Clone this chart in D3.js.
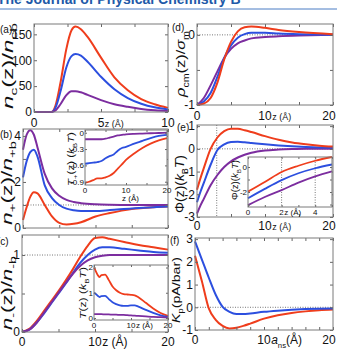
<!DOCTYPE html>
<html>
<head>
<meta charset="utf-8">
<script src="https://cdn.jsdelivr.net/npm/d3@7"></script>
<style>
  body { margin: 0; background: #fff; }
  svg { display: block; font-family: "Liberation Sans", Arial, sans-serif; }
</style>
</head>
<body>
<svg id="fig" width="337" height="350"></svg>
<script>
// colours of the three series
const RED = '#ef3d1c', BLUE = '#2c4fdf', PURPLE = '#7c2d9f';

// (a) counterion density
const zA = [0, 1.3, 1.6, 2.0, 2.4, 2.8, 3.1, 3.5, 4, 5, 6, 7, 8, 9, 10];
const aRed = [0, 0, 12, 60, 120, 158, 165, 160, 145, 105, 67, 42, 25, 15, 8];
const aBlue = [0, 0, 8, 42, 85, 108, 112, 109, 97, 68, 44, 27, 16, 9, 5];
const aPurple = [0, 0, 3, 16, 32, 40, 40, 38, 33, 23, 15, 10, 6, 3.5, 2];

// (b) cation density
const zB = [0, 0.5, 1, 1.5, 2, 3, 4, 5, 6, 7, 8, 10, 12, 15, 18, 20];
const bRed = [0.35, 0.9, 1.35, 1.55, 1.5, 1.0, 0.5, 0.22, 0.15, 0.18, 0.25, 0.5, 0.65, 0.82, 0.9, 0.93];
const bBlue = [2.2, 2.9, 3.3, 3.4, 3.1, 1.85, 1.3, 1.0, 0.84, 0.77, 0.74, 0.74, 0.78, 0.85, 0.9, 0.93];
const bPurple = [3.4, 4.05, 4.25, 4.05, 3.5, 2.35, 1.72, 1.4, 1.22, 1.13, 1.08, 1.03, 1.01, 1.0, 1.0, 1.0];

// (b) inset T+(z)
const zBi = [0, 1, 2, 3, 4, 5, 6, 7, 8, 9, 10, 12, 14, 16, 18, 20];
const biRed = [-0.92, -0.9, -0.87, -0.84, -0.84, -0.82, -0.79, -0.74, -0.66, -0.58, -0.5, -0.38, -0.28, -0.2, -0.14, -0.1];
const biBlue = [-0.57, -0.56, -0.55, -0.54, -0.52, -0.47, -0.43, -0.4, -0.33, -0.28, -0.26, -0.2, -0.15, -0.1, -0.06, -0.04];
const biPurple = [-0.12, -0.12, -0.12, -0.12, -0.12, -0.11, -0.09, -0.07, -0.05, -0.04, -0.03, -0.02, -0.015, -0.01, -0.005, 0];

// (c) anion density
const zC = [0, 1, 2, 3, 4, 5, 6, 7, 8, 9, 10, 11, 12, 14, 16, 18, 20];
const cRed = [0, 0.04, 0.14, 0.27, 0.4, 0.53, 0.67, 0.82, 0.98, 1.12, 1.22, 1.23, 1.21, 1.17, 1.13, 1.1, 1.07];
const cBlue = [0, 0.03, 0.12, 0.24, 0.37, 0.5, 0.63, 0.77, 0.9, 1.0, 1.07, 1.1, 1.1, 1.08, 1.06, 1.04, 1.03];
const cPurple = [0, 0.03, 0.12, 0.25, 0.38, 0.51, 0.64, 0.76, 0.86, 0.93, 0.97, 0.99, 1.0, 1.0, 1.0, 1.0, 1.0];

// (c) inset T-(z)
const zCi = [0, 0.5, 1, 1.5, 2, 3, 4, 5, 6, 7, 8, 9, 10, 11, 12, 14, 16, 18, 20];
const ciRed = [2.0, 1.85, 1.7, 1.62, 1.7, 1.72, 1.5, 1.25, 1.1, 1.0, 0.95, 0.93, 0.92, 0.9, 0.82, 0.6, 0.38, 0.2, 0.08];
const ciBlue = [1.0, 0.95, 0.88, 0.83, 0.87, 0.88, 0.75, 0.62, 0.55, 0.5, 0.48, 0.48, 0.5, 0.5, 0.45, 0.32, 0.2, 0.1, 0.04];
const ciPurple = [0.15, 0.15, 0.15, 0.15, 0.15, 0.14, 0.14, 0.13, 0.13, 0.12, 0.12, 0.11, 0.1, 0.09, 0.08, 0.06, 0.04, 0.03, 0.02];

// (d) charge density
const zD = [0, 1, 2, 3, 4, 5, 6, 7, 8, 10, 12, 15, 20];
const dRed = [-1, -0.98, -0.9, -0.68, -0.35, -0.1, 0.05, 0.11, 0.12, 0.1, 0.07, 0.04, 0.01];
const dBlue = [-1, -0.95, -0.83, -0.6, -0.33, -0.15, -0.04, 0.01, 0.03, 0.03, 0.02, 0.01, 0];
const dPurple = [-1, -0.9, -0.72, -0.52, -0.33, -0.2, -0.12, -0.08, -0.05, -0.03, -0.02, -0.01, 0];

// (e) potential
const zE = [0, 0.5, 1, 2, 3, 4, 5, 6, 7, 8, 10, 12, 14, 16, 18, 20];
const eRed = [-1.8, -1.3, -0.85, 0.0, 0.5, 0.78, 0.89, 0.88, 0.82, 0.74, 0.56, 0.4, 0.28, 0.2, 0.14, 0.1];
const eBlue = [-2.35, -1.9, -1.5, -0.7, -0.05, 0.2, 0.3, 0.31, 0.29, 0.26, 0.2, 0.15, 0.11, 0.08, 0.06, 0.05];
const ePurple = [-2.85, -2.5, -2.2, -1.6, -1.15, -0.8, -0.55, -0.38, -0.26, -0.17, -0.07, -0.03, -0.01, 0, 0, 0];

// (e) inset
const zEi = [0, 1, 2, 3, 4, 5];
const eiRed = [-1.97, -1.2, -0.4, 0.1, 0.5, 0.8];
const eiBlue = [-2.5, -1.75, -1.05, -0.5, -0.1, 0.2];
const eiPurple = [-3.05, -2.4, -1.85, -1.25, -0.75, -0.35];

// (f) Kp vs a_ns
const zF = [0, 1, 2, 3, 4, 5, 6, 7, 8, 10, 12, 14, 16, 18, 20];
const fRed = [2.27, 1.15, -0.05, -0.55, -0.82, -0.93, -0.9, -0.82, -0.72, -0.5, -0.35, -0.25, -0.18, -0.13, -0.1];
const fBlue = [2.9, 2.1, 1.3, 0.55, 0.02, -0.2, -0.3, -0.3, -0.27, -0.2, -0.15, -0.11, -0.08, -0.06, -0.05];

// ticks
const ticks20 = [0, 5, 10, 15, 20];
const ticksF = [0, 2, 4, 6, 8, 10, 12, 14, 16, 18, 20];

const svg = d3.select('#fig');

// text with italic / subscript pieces
function rich(parent, parts, size) {
    const t = parent.append('text').attr('font-size', size).attr('fill', '#111');
    let shift = 0;
    parts.forEach(p => {
        const target = p.sub ? size * 0.3 : 0;
        const ts = t.append('tspan').text(p.t).attr('dy', target - shift);
        shift = target;
        if (p.sub) ts.attr('font-size', size * 0.65);
        if (p.it) ts.attr('font-style', 'italic');
    });
    return t;
}

function panel(o) {
    const x = d3.scaleLinear().domain(o.xd).range([o.l, o.r]);
    const y = d3.scaleLinear().domain(o.yd).range([o.b, o.t]);
    const g = svg.append('g');
    const ts = o.ts || 3;

    if (o.inset) {
        g.append('rect').attr('x', o.l).attr('y', o.t)
            .attr('width', o.r - o.l).attr('height', o.b - o.t).attr('fill', '#fff');
    }

    (o.hd || []).forEach(v => {
        g.append('line').attr('x1', o.l).attr('x2', o.r).attr('y1', y(v)).attr('y2', y(v))
            .attr('stroke', '#555').attr('stroke-width', 0.8).attr('stroke-dasharray', '1,1.5');
    });
    (o.vd || []).forEach(v => {
        g.append('line').attr('x1', x(v)).attr('x2', x(v)).attr('y1', o.t).attr('y2', o.b)
            .attr('stroke', '#555').attr('stroke-width', 0.8).attr('stroke-dasharray', '1,1.5');
    });

    const line = d3.line().x(d => x(d[0])).y(d => y(d[1])).curve(d3.curveMonotoneX);
    o.series.forEach(([vals, col]) => {
        g.append('path')
            .datum(vals.map((v, i) => [o.z[i], v]))
            .attr('d', line)
            .attr('fill', 'none')
            .attr('stroke', col)
            .attr('stroke-width', o.lw || 2);
    });

    // inward ticks on all four sides
    const styleAxis = a => {
        a.select('.domain').remove();
        a.selectAll('line').attr('stroke', '#666');
    };
    g.append('g').attr('transform', `translate(0,${o.b})`)
        .call(d3.axisBottom(x).tickValues(o.xt).tickSize(-ts).tickFormat('')).call(styleAxis);
    g.append('g').attr('transform', `translate(0,${o.t})`)
        .call(d3.axisTop(x).tickValues(o.xt).tickSize(-ts).tickFormat('')).call(styleAxis);
    g.append('g').attr('transform', `translate(${o.l},0)`)
        .call(d3.axisLeft(y).tickValues(o.yt).tickSize(-ts).tickFormat('')).call(styleAxis);
    g.append('g').attr('transform', `translate(${o.r},0)`)
        .call(d3.axisRight(y).tickValues(o.yt).tickSize(-ts).tickFormat('')).call(styleAxis);

    g.append('rect').attr('x', o.l).attr('y', o.t)
        .attr('width', o.r - o.l).attr('height', o.b - o.t)
        .attr('fill', 'none').attr('stroke', '#7a7a7a').attr('stroke-width', 1);

    // y tick labels
    (o.ylab || []).forEach(([v, s]) => {
        g.append('text').attr('x', o.l - (o.ypad || 2)).attr('y', y(v)).attr('dy', '0.36em')
            .attr('text-anchor', 'end').attr('font-size', o.fs || 12).attr('fill', '#111').text(s);
    });
    // x tick labels, unit text after one of them
    (o.xlab || []).forEach(([v, s, dx]) => {
        const fs = o.fs || 12;
        g.append('text').attr('x', x(v) + (dx || 0)).attr('y', o.xy)
            .attr('text-anchor', 'middle').attr('font-size', fs).attr('fill', '#111').text(s);
        if (o.unit && v === o.unit.at) {
            const u = rich(g, o.unit.parts, o.unit.fs);
            const w = s.length * 0.556 * fs;
            u.attr('x', x(v) + w / 2 + 0.5).attr('y', o.xy + (o.unit.dy || 0));
        }
    });
    return { x, y, g };
}

// rotated axis title, stretched to the length it has in the figure
function ylabel(parts, size, cx, cy, len) {
    const t = rich(svg, parts, size)
        .attr('text-anchor', 'middle')
        .attr('transform', `translate(${cx},${cy}) rotate(-90)`);
    if (len) t.attr('textLength', len).attr('lengthAdjust', 'spacingAndGlyphs');
    return t;
}

function tag(s, x, y) {
    svg.append('text').attr('x', x).attr('y', y).attr('font-size', 10).attr('fill', '#111').text(s);
}

// header of the journal page
svg.append('text').attr('x', -3).attr('y', 4).attr('font-size', 14).attr('font-weight', 'bold')
    .attr('fill', '#2159a8').text('The Journal of Physical Chemistry B');
svg.append('line').attr('x1', 0).attr('x2', 337).attr('y1', 9).attr('y2', 9)
    .attr('stroke', '#4a7cc4').attr('stroke-width', 1);

const zUnit = [{ t: 'z (Å)' }];

// (a)
panel({
    l: 34, r: 168, t: 24, b: 112, xd: [0, 10], yd: [0, 170], z: zA,
    series: [[aRed, RED], [aBlue, BLUE], [aPurple, PURPLE]],
    xt: [0, 2.5, 5, 7.5, 10], yt: [0, 50, 100, 150],
    ylab: [[0, '0'], [50, '50'], [100, '100'], [150, '150']],
    xlab: [[0, '0'], [5, '5'], [10, '10']], xy: 127,
    unit: { at: 5, parts: zUnit, fs: 9 }
});
ylabel([{ t: 'n', it: 1 }, { t: 'c', sub: 1 }, { t: '(z)/' }, { t: 'n', it: 1 }, { t: 'cb', sub: 1 }], 14, 13, 66, 86);
tag('(a)', 0, 33);

// (b)
panel({
    l: 23, r: 168, t: 129, b: 228, xd: [0, 20], yd: [0, 4.3], z: zB,
    series: [[bRed, RED], [bBlue, BLUE], [bPurple, PURPLE]],
    xt: ticks20, yt: [0, 1, 2, 3, 4], hd: [1],
    ylab: [[0, '0'], [2, '2'], [4, '4']]
});
ylabel([{ t: 'n', it: 1 }, { t: '+', sub: 1 }, { t: '(z)/' }, { t: 'n', it: 1 }, { t: '+b', sub: 1 }], 14, 12, 183, 84);
tag('(b)', 0, 138);

// (b) inset
panel({
    l: 85, r: 167, t: 130, b: 185, xd: [0, 20], yd: [-0.96, 0.05], z: zBi, inset: true, lw: 1.8,
    series: [[biRed, RED], [biBlue, BLUE], [biPurple, PURPLE]],
    xt: ticks20, yt: [0, -0.3, -0.6, -0.9], ts: 2, fs: 8, ypad: 1,
    ylab: [[0, '0'], [-0.3, '-0.3'], [-0.6, '-0.6'], [-0.9, '-0.9']],
    xlab: [[0, '0'], [10, '10'], [20, '20']], xy: 193
});
rich(svg, zUnit, 8).attr('x', 122).attr('y', 201);
ylabel([{ t: 'T', it: 1 }, { t: '+', sub: 1 }, { t: '(z) (' }, { t: 'k', it: 1 }, { t: 'B', sub: 1 }, { t: 'T', it: 1 }, { t: ')' }], 9, 74, 159, 54);

// (c)
panel({
    l: 22, r: 168, t: 235, b: 332, xd: [0, 20], yd: [0, 1.26], z: zC,
    series: [[cRed, RED], [cBlue, BLUE], [cPurple, PURPLE]],
    xt: ticks20, yt: [0, 0.5, 1], hd: [1],
    ylab: [[0, '0'], [1, '1']],
    xlab: [[0, '0'], [10, '10'], [20, '20']], xy: 346,
    unit: { at: 10, parts: zUnit, fs: 12 }
});
ylabel([{ t: 'n', it: 1 }, { t: '-', sub: 1 }, { t: '(z)/' }, { t: 'n', it: 1 }, { t: '-b', sub: 1 }], 14, 12, 293, 74);
tag('(c)', -3, 245);

// (c) inset
panel({
    l: 94, r: 168, t: 265, b: 320, xd: [0, 20], yd: [-0.08, 2.1], z: zCi, inset: true, lw: 1.8,
    series: [[ciRed, RED], [ciBlue, BLUE], [ciPurple, PURPLE]],
    xt: ticks20, yt: [0, 1, 2], ts: 2, fs: 8, ypad: 1,
    ylab: [[0, '0'], [1, '1'], [2, '2']],
    xlab: [[0, '0'], [10, '10'], [20, '20']], xy: 328,
    unit: { at: 10, parts: zUnit, fs: 8 }
});
ylabel([{ t: 'T', it: 1 }, { t: '(z) (' }, { t: 'k', it: 1 }, { t: 'B', sub: 1 }, { t: 'T', it: 1 }, { t: ')' }], 9, 86, 293, 52);

// (d)
panel({
    l: 197, r: 333, t: 24, b: 105, xd: [0, 20], yd: [-1, 0.155], z: zD,
    series: [[dPurple, PURPLE], [dBlue, BLUE], [dRed, RED]],
    xt: ticks20, yt: [-1, -0.5, 0], hd: [0],
    ylab: [[0, '0'], [-1, '-1']],
    xlab: [[0, '0'], [10, '10'], [20, '20', -4]], xy: 120,
    unit: { at: 10, parts: zUnit, fs: 9 }
});
ylabel([{ t: 'ρ', it: 1 }, { t: 'cm', sub: 1 }, { t: '(z)/' }, { t: 'σ', it: 1 }, { t: 'm', sub: 1 }], 13, 185, 64, 66);
tag('(d)', 172, 31);

// (e)
panel({
    l: 197, r: 333, t: 125, b: 217, xd: [0, 20], yd: [-3, 1.05], z: zE,
    series: [[ePurple, PURPLE], [eBlue, BLUE], [eRed, RED]],
    xt: ticks20, yt: [-3, -2, -1, 0, 1], hd: [0], vd: [2.9],
    ylab: [[1, '1'], [0, '0'], [-1, '-1'], [-2, '-2'], [-3, '-3']],
    xlab: [[0, '0'], [10, '10'], [20, '20', -4]], xy: 230,
    unit: { at: 10, parts: zUnit, fs: 9 }
});
ylabel([{ t: 'Φ(z)(' }, { t: 'k', it: 1 }, { t: 'B', sub: 1 }, { t: 'T', it: 1 }, { t: ')' }], 13, 184, 184, 58);
tag('(e)', 177, 131);

// (e) inset
panel({
    l: 248, r: 332, t: 157, b: 207, xd: [0, 5], yd: [-3.2, 0.8], z: zEi, inset: true, lw: 1.8,
    series: [[eiPurple, PURPLE], [eiBlue, BLUE], [eiRed, RED]],
    xt: [0, 1, 2, 3, 4, 5], yt: [-3, -2, -1, 0], ts: 2, fs: 8, ypad: 1, vd: [2, 4],
    ylab: [[0, '0'], [-2, '-2']],
    xlab: [[0, '0'], [2, '2'], [4, '4']], xy: 215,
    unit: { at: 2, parts: zUnit, fs: 8 }
});
ylabel([{ t: 'Φ(z)(' }, { t: 'k', it: 1 }, { t: 'B', sub: 1 }, { t: 'T', it: 1 }, { t: ')' }], 9, 238, 180, 40);

// (f)
panel({
    l: 195, r: 333, t: 238, b: 330, xd: [0, 20], yd: [-1, 3.05], z: zF,
    series: [[fRed, RED], [fBlue, BLUE]],
    xt: ticksF, yt: [-1, 0, 1, 2, 3], hd: [0],
    ylab: [[3, '3'], [2, '2'], [1, '1'], [0, '0'], [-1, '-1']],
    xlab: [[0, '0'], [10, '10'], [20, '20', -4]], xy: 344,
    unit: { at: 10, parts: [{ t: 'a', it: 1 }, { t: 'ns', sub: 1 }, { t: '(Å)' }], fs: 12 }
});
ylabel([{ t: 'K', it: 1 }, { t: 'p', sub: 1 }, { t: '(pA/bar)' }], 10, 180, 290, 66);
tag('(f)', 170, 244);
</script>
</body>
</html>
